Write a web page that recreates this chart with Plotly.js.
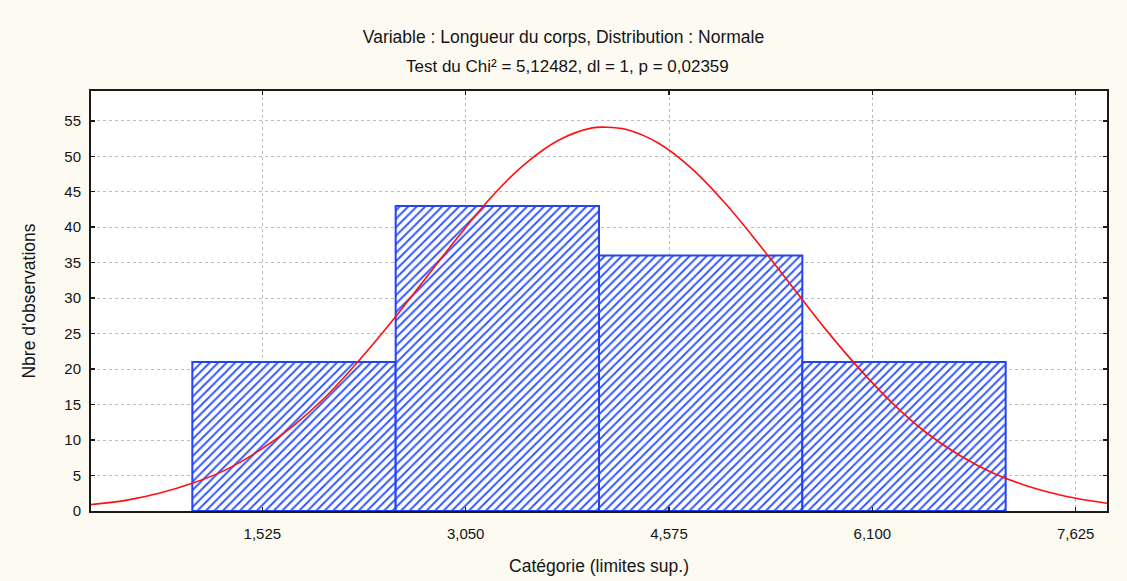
<!DOCTYPE html>
<html>
<head>
<meta charset="utf-8">
<script src="https://cdn.plot.ly/plotly-3.0.1.min.js"></script>
<style>
  html, body { margin: 0; padding: 0; background: #fcfaf1; }
  #chart { width: 1127px; height: 581px; }
</style>
</head>
<body>
<div id="chart"></div>
<script>
// Histogram classes (lower/upper limits) and observed counts
const binEdges = [1.0, 2.525, 4.05, 5.575, 7.1];
const counts = [21, 43, 36, 21];

// Fitted normal curve, sampled along the axis
const curveX = [0.24, 0.5, 0.75, 1.0, 1.25, 1.5, 1.75, 2.0, 2.25, 2.5, 2.75, 3.0, 3.25, 3.5, 3.75, 4.0, 4.1,
                4.25, 4.5, 4.75, 5.0, 5.25, 5.5, 5.75, 6.0, 6.25, 6.5, 6.75, 7.0, 7.25, 7.5, 7.75, 7.86];
const curveY = [0.9, 1.5, 2.5, 3.9, 5.8, 8.5, 11.9, 16.1, 21.2, 26.8, 32.8, 38.8, 44.4, 49.0, 52.3, 54.0, 54.1,
                53.8, 51.8, 48.2, 43.3, 37.6, 31.6, 25.6, 20.1, 15.2, 11.1, 7.9, 5.4, 3.6, 2.3, 1.4, 1.1];

// Axis ticks
const xTickVals = [1.525, 3.05, 4.575, 6.1, 7.625];
const xTickText = ['1,525', '3,050', '4,575', '6,100', '7,625'];
const yTickVals = [0, 5, 10, 15, 20, 25, 30, 35, 40, 45, 50, 55];

const titleLine1 = 'Variable : Longueur du corps, Distribution : Normale';
const titleLine2 = 'Test du Chi² = 5,12482, dl = 1, p = 0,02359';

const centers = counts.map((_, i) => (binEdges[i] + binEdges[i + 1]) / 2);
const widths = counts.map((_, i) => binEdges[i + 1] - binEdges[i]);

const font = 'Liberation Sans, Arial, sans-serif';
const ink = '#151515';

const bars = {
  type: 'bar',
  x: centers,
  y: counts,
  width: widths,
  marker: {
    color: '#ffffff',
    line: { color: '#2244f5', width: 2 },
    pattern: { shape: '/', fgcolor: '#3355ff', bgcolor: '#ffffff', size: 6, solidity: 0.32 }
  },
  hoverinfo: 'skip',
  showlegend: false
};

const curve = {
  type: 'scatter',
  mode: 'lines',
  x: curveX,
  y: curveY,
  line: { color: '#ff1010', width: 1.6, shape: 'spline' },
  hoverinfo: 'skip',
  showlegend: false
};

const axisCommon = {
  showline: true,
  mirror: 'ticks',
  linecolor: '#1a1a1a',
  linewidth: 2,
  ticks: 'inside',
  ticklen: 4,
  tickwidth: 1.5,
  tickcolor: '#1a1a1a',
  showgrid: true,
  gridcolor: '#b3c3c3',
  griddash: 'dot',
  gridwidth: 1,
  zeroline: false,
  automargin: false,
  tickfont: { family: font, size: 15, color: ink }
};

const layout = {
  width: 1127,
  height: 581,
  paper_bgcolor: '#fcfaf1',
  plot_bgcolor: '#ffffff',
  margin: { l: 91, r: 20, t: 91, b: 70 },
  bargap: 0,
  title: {
    text: titleLine1,
    x: 0.5, xref: 'container', xanchor: 'center',
    y: 1 - 37 / 581, yref: 'container', yanchor: 'middle',
    font: { family: font, size: 17.5, color: ink }
  },
  annotations: [{
    text: titleLine2,
    xref: 'paper', yref: 'paper',
    x: (567 - 91) / 1016, y: 1.0 + (91 - 66) / 420,
    xanchor: 'center', yanchor: 'middle',
    showarrow: false,
    font: { family: font, size: 17, color: ink }
  }],
  xaxis: Object.assign({}, axisCommon, {
    range: [0.24, 7.86],
    tickvals: xTickVals,
    ticktext: xTickText,
    ticklabelstandoff: 8,
    title: { text: 'Catégorie (limites sup.)', font: { family: font, size: 17.5, color: ink }, standoff: 19 }
  }),
  yaxis: Object.assign({}, axisCommon, {
    range: [0, 59.2],
    tickvals: yTickVals,
    ticklabelstandoff: 5,
    title: { text: "Nbre d'observations", font: { family: font, size: 17.5, color: ink }, standoff: 24 }
  })
};

Plotly.newPlot('chart', [bars, curve], layout, { displayModeBar: false, staticPlot: true });
</script>
</body>
</html>
